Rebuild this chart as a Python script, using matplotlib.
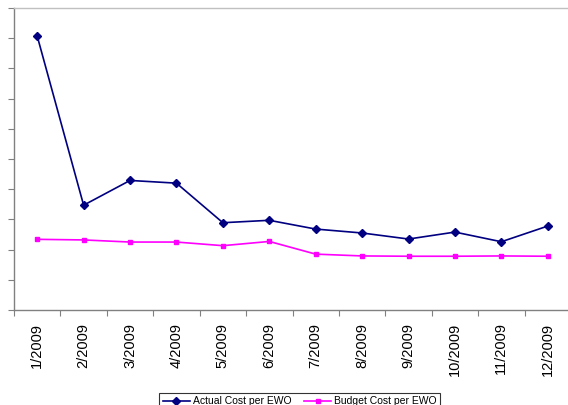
import matplotlib
matplotlib.use("Agg")
import matplotlib.pyplot as plt

months = ["1/2009", "2/2009", "3/2009", "4/2009", "5/2009", "6/2009",
          "7/2009", "8/2009", "9/2009", "10/2009", "11/2009", "12/2009"]
actual_cost = [9.07, 3.47, 4.29, 4.20, 2.89, 2.97, 2.68, 2.55, 2.35, 2.58, 2.26, 2.78]
budget_cost = [2.34, 2.32, 2.25, 2.25, 2.13, 2.27, 1.85, 1.79, 1.78, 1.78, 1.79, 1.78]

plt.rcParams['font.family'] = ['Liberation Sans', 'DejaVu Sans']

W, H = 568, 405
fig = plt.figure(figsize=(W / 100, H / 100), dpi=100)
# plot area runs a little past the right edge of the picture, like the source
ax = fig.add_axes([14 / W, 1 - 310 / H, (571 - 14) / W, (310 - 8) / H])

x = list(range(len(months)))
ax.plot(x, actual_cost, color="#000080", lw=1.2, marker="D", ms=4.5,
        label="Actual Cost per EWO")
ax.plot(x, budget_cost, color="#ff00ff", lw=1.2, marker="s", ms=3,
        label="Budget Cost per EWO")

ax.set_xlim(-0.5, len(months) - 0.5)
ax.set_ylim(0, 10)

# no value labels, only tick marks on the y axis
ax.set_yticks(range(0, 11))
ax.set_yticklabels([])
ax.tick_params(axis="y", length=4, width=0.8, color="#808080", direction="out")

# ticks between categories, labels at category centres
ax.set_xticks([i - 0.5 for i in range(len(months) + 1)])
ax.set_xticklabels([])
ax.set_xticks(x, minor=True)
ax.set_xticklabels(months, minor=True, rotation=90, fontsize=10.5, va="top")
ax.tick_params(axis="x", which="major", length=4, width=0.8, color="#808080")
ax.tick_params(axis="x", which="minor", length=0, pad=9)

for side in ["left", "bottom"]:
    ax.spines[side].set_color("#808080")
    ax.spines[side].set_linewidth(1.0)
ax.spines["top"].set_color("#c0c0c0")
ax.spines["top"].set_linewidth(1.0)
ax.spines["right"].set_visible(False)

leg = ax.legend(loc="upper left", bbox_to_anchor=(159 / W, 1 - 392.5 / H),
                bbox_transform=fig.transFigure, ncol=2, fontsize=7.5,
                frameon=True, fancybox=False, borderaxespad=0, borderpad=0.35,
                handlelength=2.6, handletextpad=0.3, columnspacing=1.2)
leg.get_frame().set_edgecolor("#000000")
leg.get_frame().set_linewidth(0.8)

fig.savefig("out.png", dpi=100)
